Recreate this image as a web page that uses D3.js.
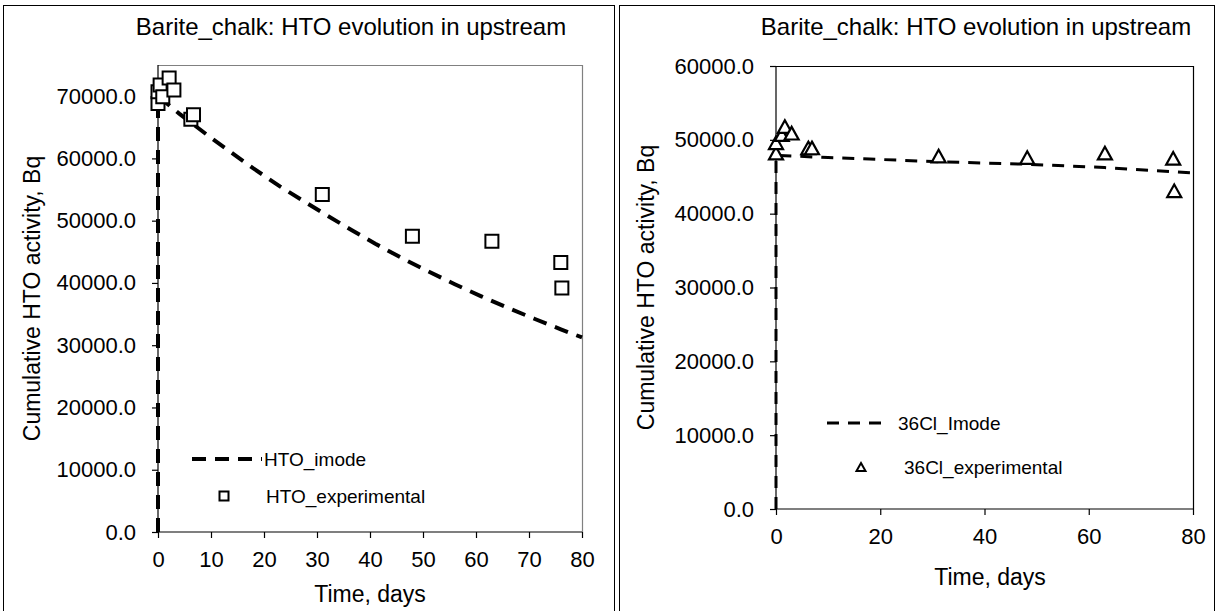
<!DOCTYPE html>
<html><head><meta charset="utf-8">
<script src="https://cdn.jsdelivr.net/npm/d3@7"></script>
<style>body{margin:0;background:#fff;}svg{display:block;font-family:"Liberation Sans",Arial,sans-serif;}</style>
</head><body>
<svg id="c" width="1218" height="611"></svg>
<script>
// ---- data ----
const chartTitle = "Barite_chalk: HTO evolution in upstream";
const xTitle = "Time, days";
const yTitle = "Cumulative HTO activity, Bq";

const leftXTicks = [0,10,20,30,40,50,60,70,80];
const leftYTicks = [0,10000,20000,30000,40000,50000,60000,70000];
const rightXTicks = [0,20,40,60,80];
const rightYTicks = [0,10000,20000,30000,40000,50000,60000];

const htoModelT = [0,0,4,10,18,23,31,36.5,41,46,51,56,61,66,71,76,80];
const htoModelV = [0,70000,67200,63300,58400,55500,51300,48500,46300,44000,41850,39800,37850,36000,34250,32550,31250];
const htoExpT = [0,0,0.4,0.9,2.1,3.0,6.2,6.7,31,48,63,76,76.2];
const htoExpV = [68800,70700,71800,69900,72900,71000,66300,67000,54200,47500,46700,43300,39200];

const clModelT = [0,0,10,18,30,48,63,80];
const clModelV = [0,47900,47600,47400,47050,46700,46250,45500];
const clExpT = [0,0,1.1,1.7,3.0,6.2,6.9,31.2,48.2,63.1,76.2,76.4];
const clExpV = [48200,49600,50700,51800,50900,48900,48900,47800,47600,48200,47500,43100];

const legendLeft = ["HTO_imode","HTO_experimental"];
const legendRight = ["36Cl_Imode","36Cl_experimental"];

// ---- drawing ----
const svg = d3.select("#c");
const fmt = d3.format(".1f");

function triPath(w,h){ return `M0,${-h/2}L${w/2},${h/2}L${-w/2},${h/2}Z`; }

function panel(cfg){
  const g = svg.append("g");
  g.append("rect").attr("x",cfg.border[0]+0.5).attr("y",5.5).attr("width",cfg.border[1]-cfg.border[0]).attr("height",640)
    .attr("fill","none").attr("stroke","#000").attr("stroke-width",1);
  const x = d3.scaleLinear().domain(cfg.xDomain).range(cfg.xRange);
  const y = d3.scaleLinear().domain(cfg.yDomain).range(cfg.yRange);
  g.append("path").attr("d",`M${cfg.xRange[0]},${cfg.yRange[1]+0.5}H${cfg.xRange[1]+0.5}V${cfg.yRange[0]}`)
    .attr("fill","none").attr("stroke",cfg.frameColor).attr("stroke-width",1.2);
  const ax = g.append("g").attr("transform",`translate(0,${cfg.yRange[0]})`)
    .call(d3.axisBottom(x).tickValues(cfg.xTicks).tickSize(6).tickPadding(13).tickFormat(d3.format("d")));
  const ay = g.append("g").attr("transform",`translate(${cfg.xRange[0]},0)`)
    .call(d3.axisLeft(y).tickValues(cfg.yTicks).tickSize(6).tickPadding(16).tickFormat(fmt));
  [ax,ay].forEach(a=>{
    a.select(".domain").attr("stroke","#000").attr("stroke-width",1.2);
    a.selectAll(".tick line").attr("stroke","#000").attr("stroke-width",1.2);
    a.selectAll("text").attr("font-size",22).attr("fill","#000").attr("font-family",'"Liberation Sans",Arial,sans-serif');
  });
  ax.select(".domain").attr("d",`M${cfg.xRange[0]},0H${cfg.xRange[1]}`);
  ay.select(".domain").attr("d",`M0,${cfg.yRange[0]}V${cfg.yRange[1]}`);
  g.append("text").attr("x",cfg.titleX).attr("y",26).attr("text-anchor","middle").attr("dominant-baseline","central")
    .attr("font-size",24).text(chartTitle);
  g.append("text").attr("x",cfg.xTitleX).attr("y",cfg.xTitleY).attr("text-anchor","middle").attr("dominant-baseline","central")
    .attr("font-size",23).text(xTitle);
  g.append("text").attr("transform",`translate(${cfg.yTitleX},${(cfg.yRange[0]+cfg.yRange[1])/2}) rotate(-90)`)
    .attr("text-anchor","middle").attr("dominant-baseline","central").attr("font-size",23).text(yTitle);
  const md = cfg.modelT.map((t,i)=>[t,cfg.modelV[i]]);
  g.append("path").datum(md).attr("d",d3.line().x(d=>x(d[0])).y(d=>y(d[1])))
    .attr("fill","none").attr("stroke","#000").attr("stroke-width",cfg.lineW).attr("stroke-dasharray",cfg.dash);
  const ed = cfg.expT.map((t,i)=>[t,cfg.expV[i]]);
  const mk = g.selectAll(".mk").data(ed).enter().append("path")
    .attr("transform",d=>`translate(${x(d[0])},${y(d[1])})`)
    .attr("fill","#fff").attr("stroke","#000").attr("stroke-width",cfg.markW);
  if(cfg.marker==="square") mk.attr("d",d3.symbol(d3.symbolSquare, cfg.markSize*cfg.markSize)());
  else mk.attr("d",triPath(cfg.markSize,cfg.markSize*0.9));
  const L = cfg.legend;
  g.append("line").attr("x1",L.lx1).attr("x2",L.lx2).attr("y1",L.ly).attr("y2",L.ly)
    .attr("stroke","#000").attr("stroke-width",cfg.lineW).attr("stroke-dasharray",cfg.dash);
  g.append("text").attr("x",L.tx1).attr("y",L.ly).attr("dominant-baseline","central").attr("font-size",19).text(cfg.legendText[0]);
  const lm = g.append("path").attr("transform",`translate(${L.mx},${L.my})`).attr("fill","#fff").attr("stroke","#000").attr("stroke-width",2);
  if(cfg.marker==="square") lm.attr("d",d3.symbol(d3.symbolSquare,81)());
  else lm.attr("d",triPath(9,8));
  g.append("text").attr("x",L.tx2).attr("y",L.my).attr("dominant-baseline","central").attr("font-size",19).text(cfg.legendText[1]);
}

panel({
  border:[3,614], xDomain:[0,80], xRange:[158,582], yDomain:[0,75000], yRange:[532,65],
  xTicks:leftXTicks, yTicks:leftYTicks, frameColor:"#808080",
  titleX:351, xTitleX:370, xTitleY:594, yTitleX:32,
  modelT:htoModelT, modelV:htoModelV, expT:htoExpT, expV:htoExpV,
  lineW:4, dash:"14,9", marker:"square", markSize:13, markW:2,
  legend:{lx1:192,lx2:262,ly:459,tx1:264,mx:224,my:496,tx2:266}, legendText:legendLeft
});
panel({
  border:[619,1214], xDomain:[0,80], xRange:[776,1193], yDomain:[0,60000], yRange:[509,66],
  xTicks:rightXTicks, yTicks:rightYTicks, frameColor:"#000",
  titleX:976, xTitleX:990, xTitleY:577, yTitleX:646,
  modelT:clModelT, modelV:clModelV, expT:clExpT, expV:clExpV,
  lineW:3, dash:"12,9", marker:"triangle", markSize:14, markW:2.2,
  legend:{lx1:827,lx2:884,ly:423,tx1:898,mx:861,my:467,tx2:904}, legendText:legendRight
});
</script>
</body></html>
